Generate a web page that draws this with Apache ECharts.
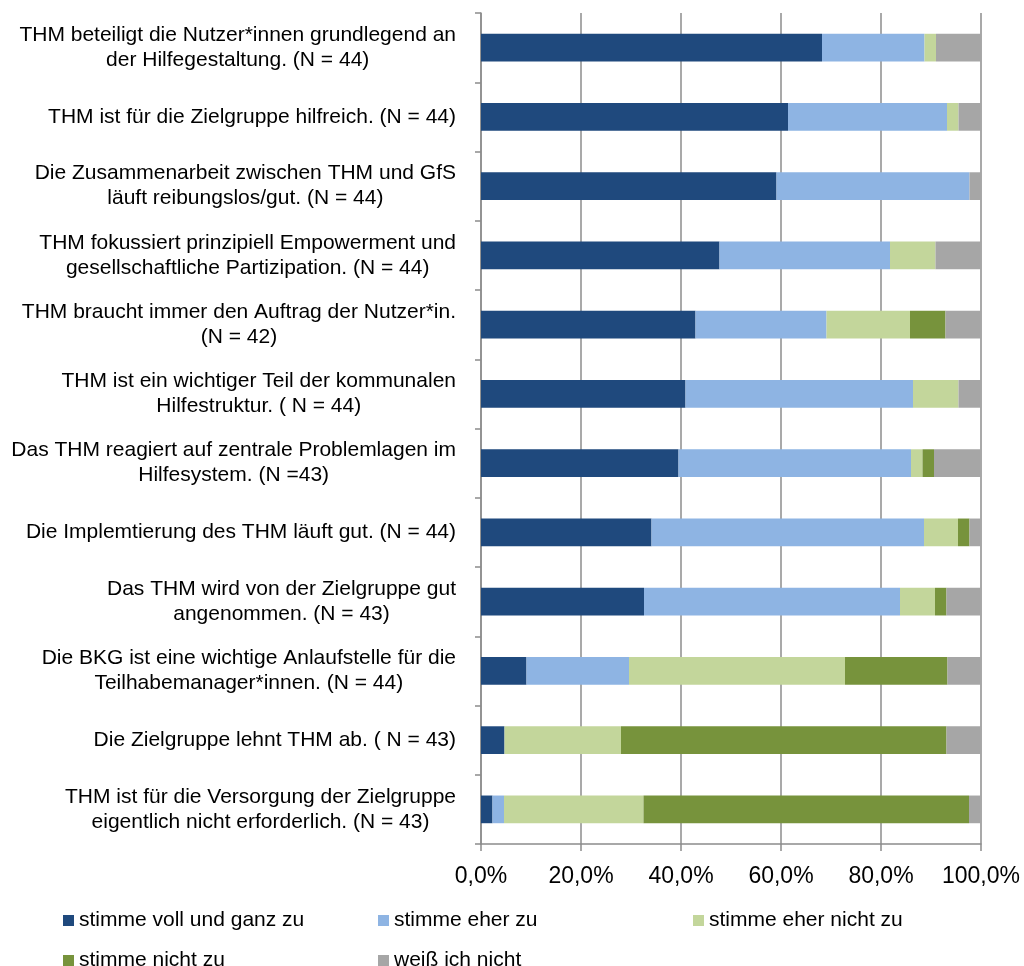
<!DOCTYPE html>
<html>
<head>
<meta charset="utf-8">
<script src="https://cdn.jsdelivr.net/npm/echarts@6/dist/echarts.min.js"></script>
<style>
html,body{margin:0;padding:0;background:#fff;}
#chart{width:1024px;height:966px;}
</style>
</head>
<body>
<div id="chart"></div>
<script>
const categories = [
  "THM beteiligt die Nutzer*innen grundlegend an\nder Hilfegestaltung. (N = 44)",
  "THM ist für die Zielgruppe hilfreich. (N = 44)",
  "Die Zusammenarbeit zwischen THM und GfS\nläuft reibungslos/gut. (N = 44)",
  "THM fokussiert prinzipiell Empowerment und\ngesellschaftliche Partizipation. (N = 44)",
  "THM braucht immer den Auftrag der Nutzer*in.\n(N = 42)",
  "THM ist ein wichtiger Teil der kommunalen\nHilfestruktur. ( N = 44)",
  "Das THM reagiert auf zentrale Problemlagen im\nHilfesystem. (N =43)",
  "Die Implemtierung des THM läuft gut. (N = 44)",
  "Das THM wird von der Zielgruppe gut\nangenommen. (N = 43)",
  "Die BKG ist eine wichtige Anlaufstelle für die\nTeilhabemanager*innen. (N = 44)",
  "Die Zielgruppe lehnt THM ab. ( N = 43)",
  "THM ist für die Versorgung der Zielgruppe\neigentlich nicht erforderlich. (N = 43)"
];
const seriesNames = ["stimme voll und ganz zu", "stimme eher zu", "stimme eher nicht zu", "stimme nicht zu", "weiß ich nicht"];
const vollUndGanz = [68.2, 61.4, 59.1, 47.7, 42.9, 40.9, 39.5, 34.1, 32.6, 9.1, 4.7, 2.3];
const eherZu      = [20.5, 31.8, 38.6, 34.1, 26.2, 45.5, 46.5, 54.5, 51.2, 20.5, 0, 2.3];
const eherNicht   = [2.3, 2.3, 0, 9.1, 16.7, 9.1, 2.3, 6.8, 7.0, 43.2, 23.3, 27.9];
const nicht       = [0, 0, 0, 0, 7.1, 0, 2.3, 2.3, 2.3, 20.5, 65.1, 65.1];
const weissNicht  = [9.1, 4.5, 2.3, 9.1, 7.1, 4.5, 9.3, 2.3, 7.0, 6.8, 7.0, 2.3];
const xTicks = [0, 20, 40, 60, 80, 100];

const colors = ["#1F497D", "#8EB4E3", "#C3D69B", "#77933C", "#A6A6A6"];
const font = "'Liberation Sans', Arial, sans-serif";
const allData = [vollUndGanz, eherZu, eherNicht, nicht, weissNicht];

const chart = echarts.init(document.getElementById('chart'), null, {renderer: 'canvas'});
chart.setOption({
  animation: false,
  color: colors,
  textStyle: {fontFamily: font},
  grid: {left: 481, right: 43, top: 13, bottom: 122, containLabel: false},
  legend: {
    left: 63, top: 905, width: 950, padding: 0,
    itemWidth: 11, itemHeight: 11, itemGap: 9,
    icon: 'rect',
    data: seriesNames,
    textStyle: {fontSize: 21, color: '#000', fontFamily: font, width: 290, lineHeight: 31}
  },
  xAxis: {
    type: 'value', min: xTicks[0], max: xTicks[xTicks.length - 1], interval: 20,
    axisLine: {show: true, lineStyle: {color: '#8c8c8c', width: 1.5}},
    axisTick: {show: true, length: 7, lineStyle: {color: '#8c8c8c', width: 1.5}},
    splitLine: {show: true, lineStyle: {color: '#8c8c8c', width: 1.5}},
    axisLabel: {
      fontSize: 23, color: '#000', fontFamily: font, margin: 21,
      formatter: v => v.toFixed(1).replace('.', ',') + '%'
    }
  },
  yAxis: {
    type: 'category', inverse: true, data: categories,
    axisLine: {show: true, lineStyle: {color: '#8c8c8c', width: 1.5}},
    axisTick: {show: true, length: 6, lineStyle: {color: '#8c8c8c', width: 1.5}},
    axisLabel: {
      margin: 25, color: '#000',
      formatter: v => v.split('\n').map(l => '{c|' + l + '}').join('\n'),
      rich: {c: {fontSize: 21, lineHeight: 25, align: 'center', color: '#000', fontFamily: font}}
    }
  },
  series: seriesNames.map((name, i) => ({
    name: name, type: 'bar', stack: 'total',
    barCategoryGap: '60%',
    data: allData[i],
    itemStyle: {color: colors[i]}
  }))
});
</script>
</body>
</html>
